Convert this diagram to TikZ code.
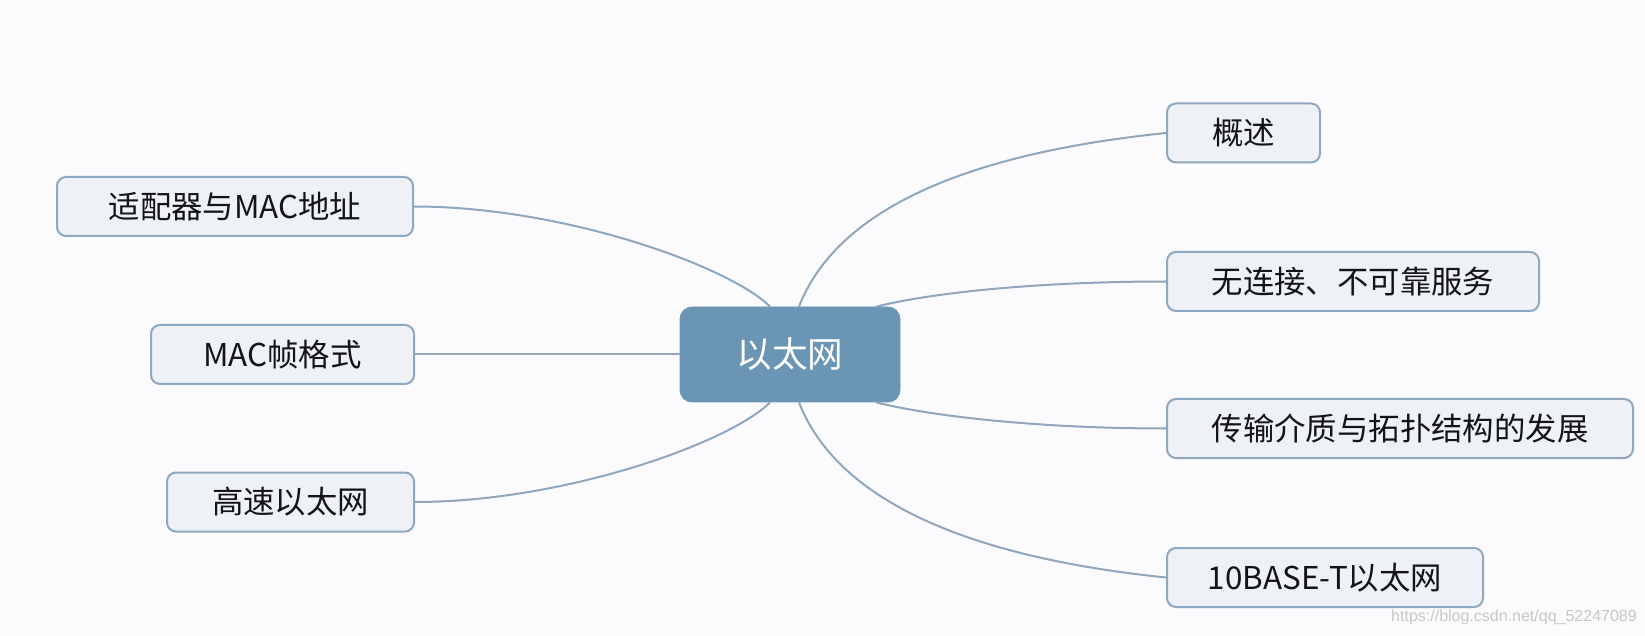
\documentclass[tikz,border=0pt]{standalone}
\usepackage{fontspec}
\setmainfont{Noto Sans CJK SC}
\newfontfamily\markfont{Liberation Sans}
\usetikzlibrary{positioning}

\definecolor{hubfill}{HTML}{6B95B5}
\definecolor{topicfill}{HTML}{EEF2F7}
\definecolor{topicdraw}{HTML}{8EA8C0}
\definecolor{branchcol}{HTML}{8FA6BC}
\definecolor{paper}{HTML}{FBFBFD}

\begin{document}
\begin{tikzpicture}[x=0.5pt,y=-0.5pt]

  \tikzstyle{hub}=[rectangle,rounded corners=6pt,fill=hubfill,draw=hubfill,text=white,
                   font=\fontsize{17.8}{20}\selectfont,minimum width=110pt,minimum height=47.5pt,inner sep=0pt]
  \tikzstyle{topic}=[rectangle,rounded corners=4.5pt,fill=topicfill,draw=topicdraw,line width=1pt,
                     text=black!92,font=\fontsize{15.7}{18}\selectfont,minimum height=29.5pt,inner sep=0pt]
  \tikzstyle{branch}=[draw=branchcol,line width=1pt]

  % page
  \fill[paper] (0,0) rectangle (1645,636);

  % nodes
  \node[hub]                        (ethernet) at (790,354.5)  {以太网};
  \node[topic,minimum width=178pt] (adapter)  at (235,206.5)  {适配器与MAC地址};
  \node[topic,minimum width=131.5pt] (frame)  at (282.5,354.5) {MAC帧格式};
  \node[topic,minimum width=123.5pt] (fast)   at (290.5,502)  {高速以太网};
  \node[topic,minimum width=76.5pt] (overview) at (1243.5,133) {概述};
  \node[topic,minimum width=186pt] (service)  at (1353,281.5) {无连接、不可靠服务};
  \node[topic,minimum width=233pt] (medium)   at (1400,428.5) {传输介质与拓扑结构的发展};
  \node[topic,minimum width=158pt] (tenbase)  at (1325,577.5) {10BASE-T以太网};

  % branches
  \draw[branch] ([xshift=4.5pt]ethernet.north) .. controls +(37,-95) and +(-205,21) .. (overview.west);
  \draw[branch] ([xshift=-12pt]ethernet.north east) .. controls +(60,-15) and +(-120,0) .. (service.west);
  \draw[branch] ([xshift=-12pt]ethernet.south east) .. controls +(60,15) and +(-120,0) .. (medium.west);
  \draw[branch] ([xshift=4.5pt]ethernet.south) .. controls +(37,95) and +(-205,-21) .. (tenbase.west);
  \draw[branch] ([xshift=-10pt]ethernet.north) .. controls +(-40,-40) and +(150,0) .. (adapter.east);
  \draw[branch] (ethernet.west) -- (frame.east);
  \draw[branch] ([xshift=-10pt]ethernet.south) .. controls +(-40,40) and +(150,0) .. (fast.east);

  % watermark
  \node[text=black!22,font=\markfont\fontsize{8}{10}\selectfont,inner sep=0pt] (watermark) at (1514,617)
    {https://blog.csdn.net/qq\_52247089};

\end{tikzpicture}
\end{document}
